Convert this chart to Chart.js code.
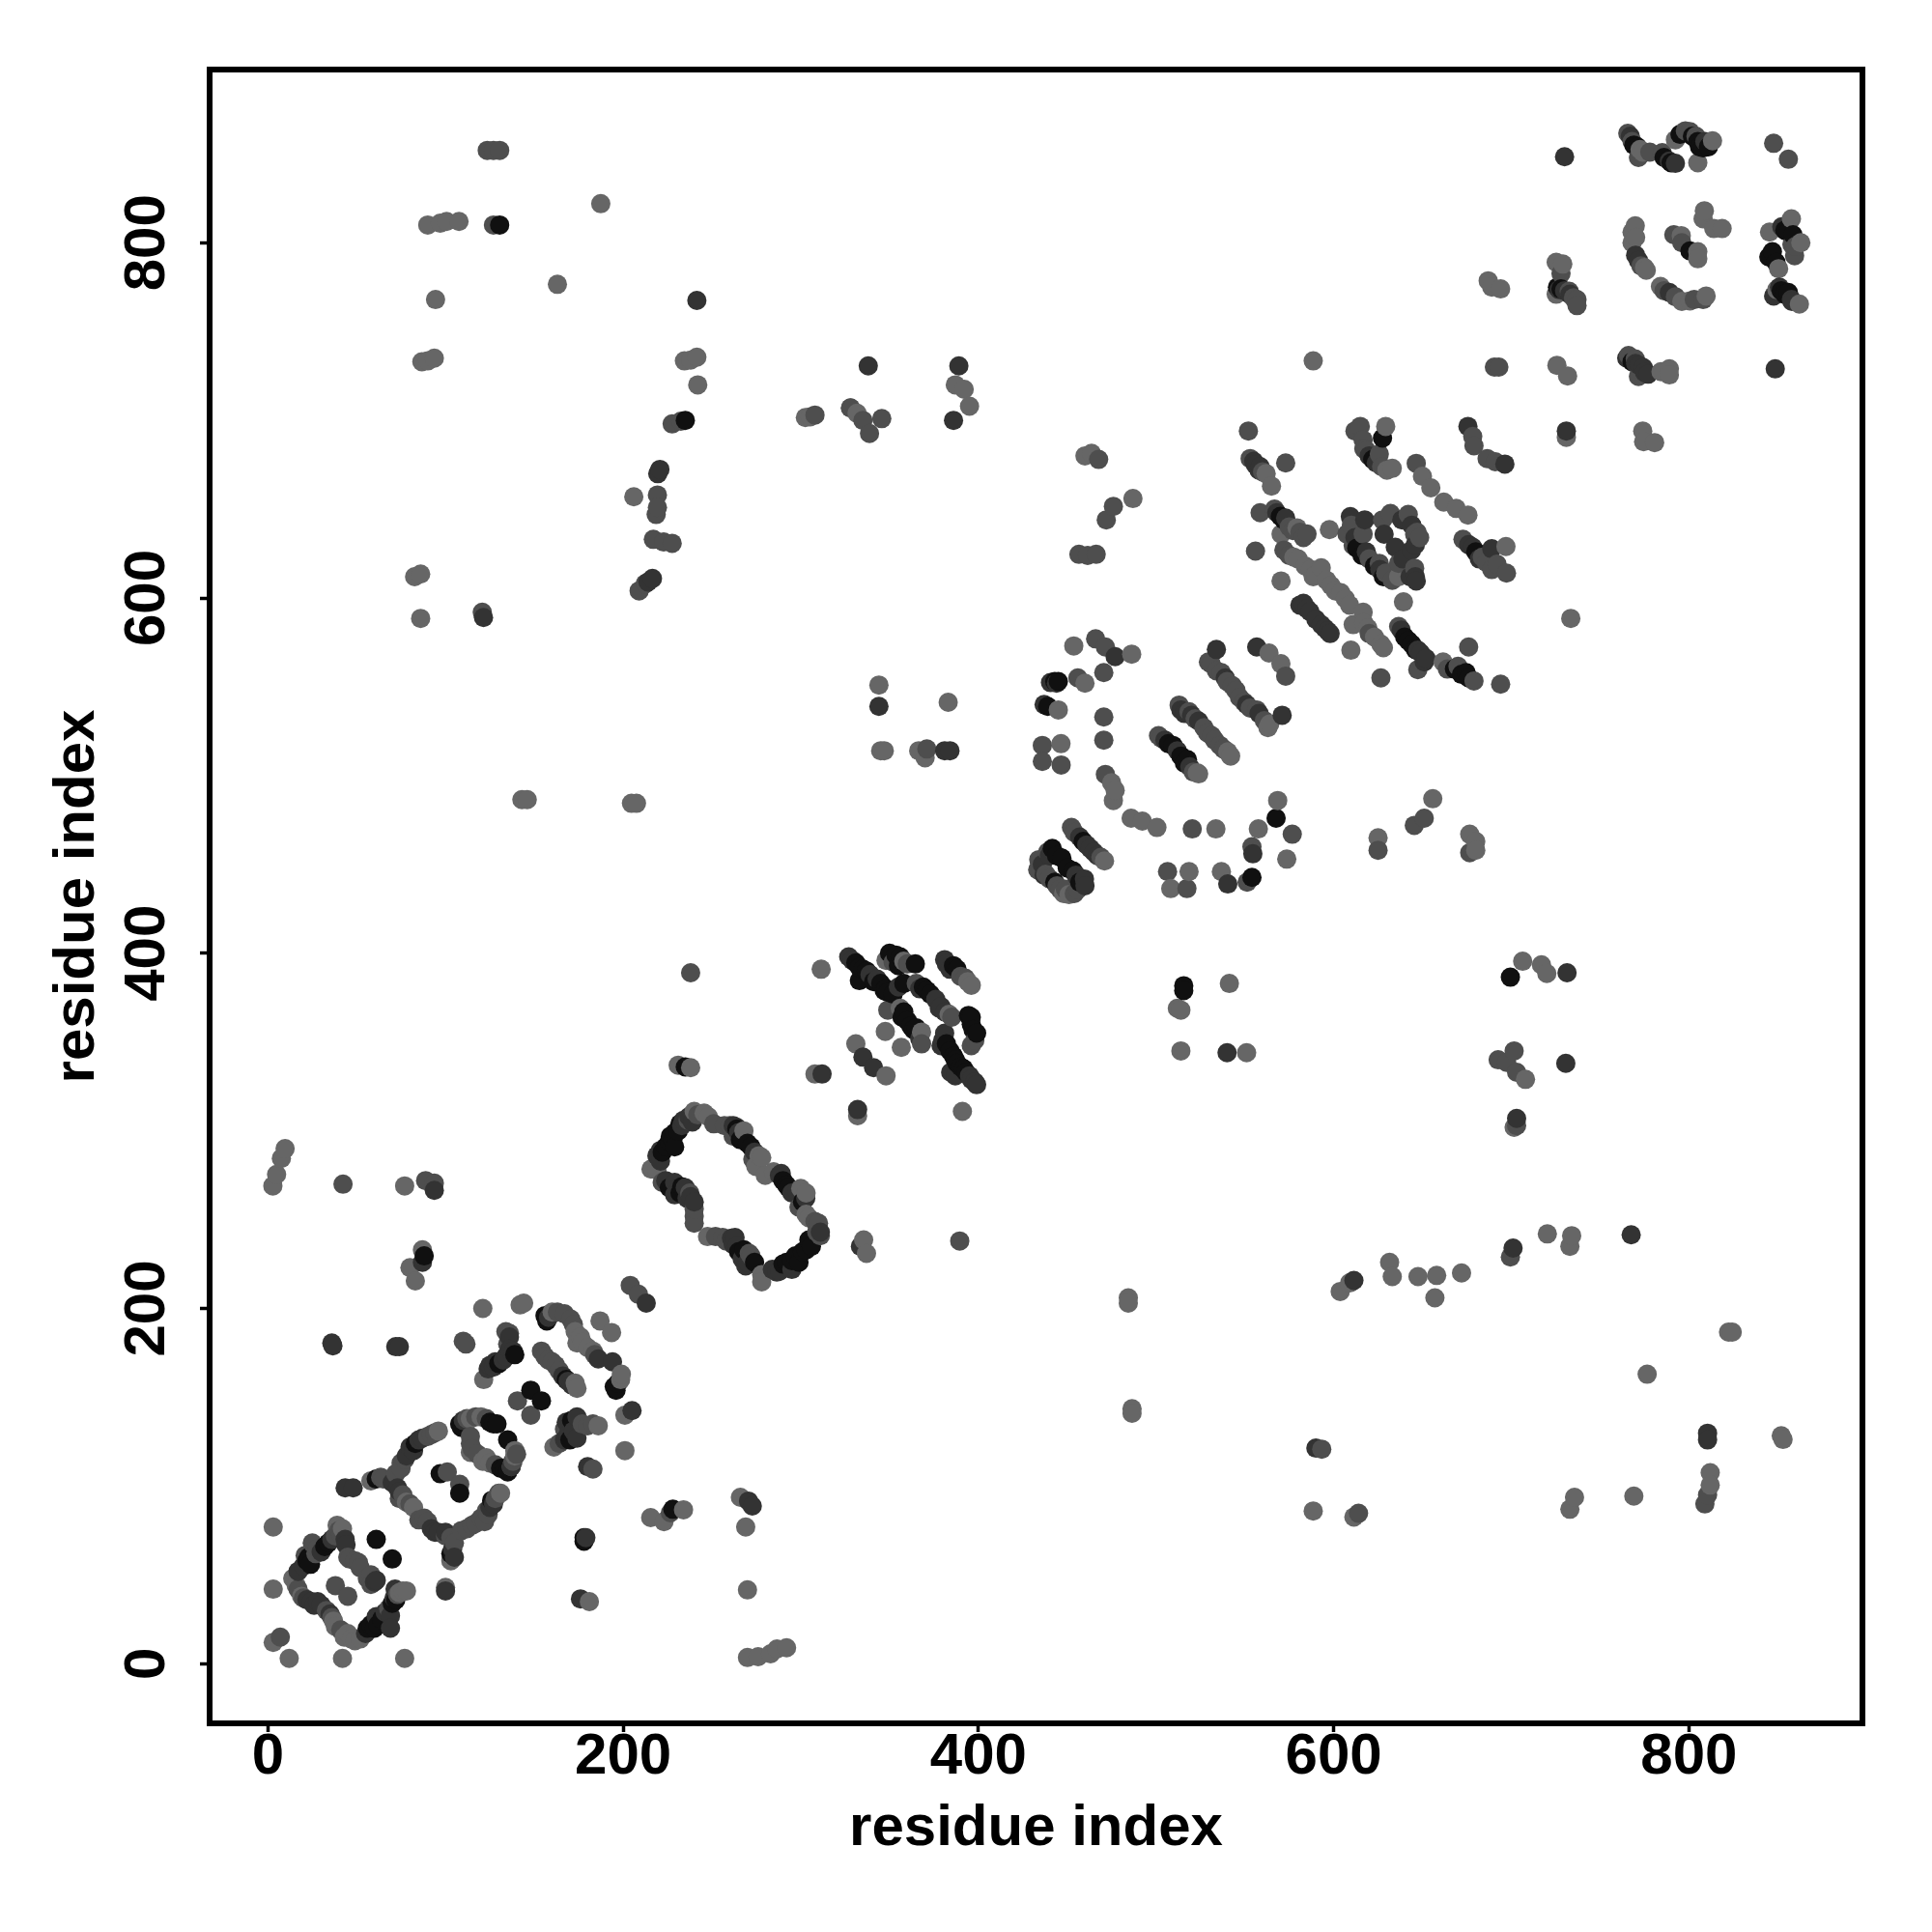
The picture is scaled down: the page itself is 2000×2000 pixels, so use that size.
<!DOCTYPE html>
<html><head><meta charset="utf-8">
<style>html,body{margin:0;padding:0;background:#fff}canvas{display:block}</style>
<script src="https://cdn.jsdelivr.net/npm/chart.js@4"></script>
</head><body><canvas id="c" width="2000" height="2000"></canvas>
<script>
const axisTitle = "residue index";
const tickValues = [0,200,400,600,800];
const lightPoints = [[3,77],[3,42],[3,12],[12,3],[42,3],[77,3],[14,48],[16,44],[19,38],[38,21],[45,17],[47,14],[52,14],[76,41],[78,41],[39,78],[58,103],[103,58],[96,131],[114,138],[120,139],[131,96],[139,117],[114,119],[121,114],[125,113],[121.5,160],[121,200],[142,202],[144,203],[160,198],[187,193],[193.5,186.5],[176,184],[174,180.6],[183,176],[174,155],[198.6,160],[201,140],[186,134],[161,122],[201,120],[100,43],[181,35],[215.5,82.3],[223,80],[234,86.7],[87,233],[80,223],[83,215.5],[311.5,391],[348,396],[358,395.5],[396,382],[383.5,365.6],[356,369],[368,355.6],[347.6,356],[356.6,347],[331,349],[348,331],[231,337],[238,335.6],[308,332],[332,308.5],[391,311],[335.4,238.6],[337,231],[240,311],[245.6,310],[215.7,278.5],[219,278],[247.5,240.5],[278,219],[278,215],[304.6,251],[300,267.6],[284.7,277],[280,275],[274.7,280],[276.5,286],[268,300],[453.7,573],[486.3,568.4],[460,552],[445,537],[446.5,518],[475,496],[477,491.7],[476,486],[486,476],[492.3,474.4],[500.5,470.8],[533.7,470],[568.5,486],[557.6,470],[573.6,453],[518.6,446],[508.3,436.4],[536.8,446],[471,452],[448,433.6],[540.4,513.4],[523.2,501.6],[564,529],[563.6,569],[570.3,563],[562,670],[565,663],[579.4,639.5],[570.4,636],[597.6,638.5],[577.6,623],[584,618],[588.5,612],[570.4,609.6],[593,617],[598.5,607],[606.6,599.6],[616.6,592],[619.3,583],[626.6,574],[609.7,570.6],[611,585],[639.3,597.8],[661.6,564],[629.3,696.6],[633,673],[650,668.5],[654.7,662],[662,654],[669,650.4],[675.6,646.7],[697,629],[636.6,612],[772.5,852.5],[792.4,858],[813.3,857.4],[805,845],[808.7,818],[808,813.5],[814,808],[818.7,808],[769.8,809.5],[768,806],[768,800],[776,784.5],[795.7,804],[805,795],[805,791],[784,775.4],[800.6,767.3],[809.7,770],[729,788],[725.3,789],[725.3,771],[857.7,813.5],[845.4,806],[863,800],[850.5,785.4],[849.5,773.6],[862.2,765.5],[725.7,731],[731.7,725],[784.3,727.4],[789,729],[789,725.6],[187.4,822],[163,776.6],[94.4,768],[86.7,733],[90,733.5],[93.7,735],[234.5,733.5],[238,734],[241.5,735.6],[242,720],[206,657],[143,486.5],[146,486.5],[204.7,484.4],[207.5,484.4],[588.5,733.5],[774,694],[774.5,688],[780.7,687.5],[731,690.5],[460,680],[463.7,681.4],[487,656],[733.5,588.5],[655.8,487],[625,465],[676.6,467],[680,463],[680,458],[708,329],[706.4,395.5],[717,393.5],[720,388.6],[701.6,302],[720.3,242],[734,241],[733,235],[603.7,209.6],[609,214.4],[631.5,226],[633,218],[647.5,218],[658,218.6],[657,206],[672,220],[484.4,206],[484.4,203],[486.5,143.6],[486.5,141],[588.5,86],[611.4,82.6],[733,87],[735.6,93.7],[769,94.4],[776.5,163],[822.3,186.7],[824.4,186.7],[812,107.6],[812,100.6],[852,128.4],[853,126.3],[2.8,269],[4.9,275.5],[7.6,284.5],[9.7,290],[77,269],[266,93.7],[269,77],[270,41.6],[270,3.5],[276,4],[283,5.6],[286.6,8.3],[292,9],[86,588.5],[82.6,612],[86,613.5],[90,810],[97,811],[100.6,812],[107.6,812],[302.6,701.6],[305.3,702],[328,707],[331.7,704],[345,514],[347,514],[366.4,514],[370,510],[344,551],[383,541.3],[387,720],[392,717.5],[395,708],[512,369],[514,368],[514,345],[541.3,383],[551,344],[687,778.6],[689,775],[694,774],
[42,76],[37,24],[43,15],[49,13],[74,40],[78,91],[82,88],[123,116],[139,120],[173,187],[177,181],[180,178],[173,158],[199,163],[248,308],[278,285],[303,265],[303,253],[394,384],[451,433],[524,501],[542,511],[563,527],[580,622],[587,616],[590,613],[596,610],[601,604],[604,603],[609,596],[617,586],[623,578],[628,572],[630,672],[774,851],[770,803],[775,786],[796,767]];
const midPoints = [[7,15],[38,44],[45,38],[40,75],[21,61],[28,65],[25,68],[45,60],[51,57],[58,50],[58,44.6],[63.5,105],[74,93],[80,90],[90,80],[100,72],[109,75],[122,80],[123,86],[72,107],[75,113],[90,128],[101,108],[108,101],[114,124],[140.5,148],[148,140],[134,187],[110,181.6],[111.5,180],[170.5,194],[162,168],[156,173],[183,109.6],[204,213],[208.6,208],[167,132],[226.6,85],[238,389],[392.6,386],[365,383],[396,348],[349,368],[368,349],[389.5,238],[236.6,306],[251,304],[222,271],[237.5,265],[240,252],[240,248],[252,240.5],[272,229.6],[311,241],[310,248],[260,303],[466,577],[471.5,572.4],[470.6,558],[456,555],[470.6,533],[470.6,520],[436,517],[436,508],[446.6,506],[471.5,500.7],[520.4,470],[576.7,467],[554,460],[506.5,446],[517.4,436.4],[551.3,440],[452.4,470.8],[434,452.7],[433.4,447],[438,444.5],[444.3,438],[454,433.6],[513,539.7],[518.6,536],[531.3,522.5],[501.4,522.5],[529.5,564],[536.8,558],[543,550.6],[549.5,541.5],[556.7,537],[573,556],[552,694],[553,678.5],[573,676],[558.6,648],[566.7,650],[585,636],[556,626.4],[572,627],[626.6,555],[636.6,584],[647.4,559.7],[676,572.4],[670,561.5],[679,553.3],[694,551.5],[615,696.6],[616.6,689],[625.7,681],[618.4,683],[678.3,691],[679,685.7],[686.4,678.5],[691,676.7],[646.5,675.8],[672.8,633],[683.7,623],[689,616],[697.3,614],[607.5,636],[616.6,636],[611,629.5],[625.7,619.5],[629.3,614],[645.6,616.8],[636.6,619.5],[627.5,644],[632,647.6],[645.6,635.9],[648.4,634],[765.6,861.6],[768,857],[771.6,848],[785,850.7],[800.6,862.5],[804,860],[847.7,856],[856,847],[791.5,804.5],[796,800],[792.4,769.6],[808,768],[728,782.7],[732.6,772.7],[737,768],[737,764.6],[859.5,792.7],[766,736.5],[769.8,734.6],[771.6,724.7],[127,852],[130.5,852],[123.5,852],[219.3,658],[219.3,651],[218.6,647],[217,633],[222.8,631.5],[227.6,630.8],[209,604],[212.4,608],[120.7,592],[227.6,698],[232.5,699.5],[345.6,701],[690.5,730],[693,730],[467.7,678],[476,651.6],[472,644],[456.6,624.6],[461.5,624],[466.3,624.6],[651,476],[645.4,472],[625,458],[676.6,456.6],[692.6,340],[701.6,345],[697.4,338.6],[703,333],[703,303],[699.5,229],[593.3,120.8],[614,84.7],[810.5,95],[809,90],[42.3,270],[88.8,272],[93.7,270.6],[127,810],[308,703],[335,700],[338.7,692.6],[328,707],[371,515],
[27,62],[38,72],[41,73],[17,42],[20,37],[33,30],[36,26],[41,19],[68,31],[73,39],[46,59],[49,58],[52,54],[56,48],[65,104],[76,95],[85,81],[88,82],[103,71],[105,68],[75,110],[77,115],[92,129],[94,130],[112,76],[115,78],[117,79],[120,82],[124,84],[128,93],[130,96],[112,138],[117,139],[123,138],[114,128],[115,121],[118,118],[128,112],[137,111],[138,114],[140,118],[135,180],[136,186],[163,198],[167,197],[172,191],[184,174],[154,176],[158,171],[160,170],[164,165],[164,124],[183,135],[180,134],[177,135],[242,309],[257,303],[262,297],[273,284],[299,257],[308,249],[309,243],[256,240],[258,238],[271,231],[240,256],[352,395],[360,394],[385,364],[390,387],[398,351],[440,442],[446,436],[449,436],[456,436],[439,457],[454,468],[469,454],[503,521],[521,502],[522,532],[527,527],[529,524],[533,520],[536,517],[538,515],[531,563],[534,559],[540,553],[545,548],[547,544],[553,538],[561,531],[560,671],[575,640],[577,638],[581,637],[583,634],[575,624],[620,580],[664,560],[612,694],[617,684],[627,674],[686,620],[692,619],[610,641],[620,622],[633,610],[642,647],[647,637],[778,851],[798,863],[773,787],[786,773],[803,768],[735,769],[858,799],[860,798]];
const darkPoints = [[43.5,70],[61,47],[24.5,35],[28,35],[35,28],[61,26.5],[69,27],[69,20],[71,37],[71.6,42],[17,52],[43.5,99],[48,99],[73,99],[94,74],[104,64.5],[127,90],[80,122],[85,126],[125,168],[132.5,171],[136,184],[158,195],[186,171.6],[194,170],[169,159],[205,142.5],[174,139],[167,126],[180,111],[100,41],[179,71],[176,36.5],[36.6,179],[36,180.6],[72,178.5],[74,178.5],[87,226],[213,203],[327,398],[343,385.5],[355,381],[381,396.4],[379,370],[381,355],[379,348],[384.4,333],[398,327.5],[395,331],[335,341.5],[341,335.6],[312,332],[332,312],[333.6,235],[221,289],[219,286],[229,271],[240,260],[261,239.6],[264,235],[269,224],[286.5,220.5],[311,243],[302.8,262],[289,276],[264,302],[477,567],[440.6,552.4],[437,540],[554.5,456],[540.4,439],[457,465.4],[465,457],[459.7,441.8],[524,530.7],[534,571],[571,534],[556.7,572.4],[558.6,674],[573,645],[581,596],[586.7,592.3],[593,585],[596.7,581.4],[647.4,570.6],[652,566],[675.6,696.6],[696.4,675.4],[678.3,628.6],[689,627.7],[609.4,645.8],[617.5,644],[618.4,626],[646.5,609.6],[634.7,628.6],[628.4,635.9],[638.4,644],[643.8,626.8],[730,848.4],[789,846],[792.4,844.7],[771.6,790],[789,772],[727,773.6],[852.3,809],[847.7,770],[857.7,768],[774.3,729.7],[848.6,729],[241.5,767.5],[216.5,611],[220.7,672.4],[219.5,670],[121.4,589],[338,730.7],[389,730.7],[386,700],[381,514],[384,514],[344,539],[540,344],[730.7,338],[731.4,389],[731,694],[703,307],[767.5,241.5],[701,234],[611.4,215.8],[590,121.4],[810.5,129.8],[810.5,126],[93.7,266.5],[272.7,88.8],[270.6,91.6],
[20,55],[30,63],[36,70],[44,67],[22,36],[26,33],[30,33],[55,17],[66,29],[70,102],[74,97],[60,46],[92,76],[96,74],[100,74],[105,60],[78,117],[82,120],[87,127],[125,88],[110,137],[137,111],[124,166],[127,167],[128,170],[134,173],[136,177],[138,176],[166,162],[171,157],[168,136],[169,129],[172,131],[174,127],[221,283],[233,303],[234,306],[237,308],[239,305],[262,303],[265,299],[274,288],[288,275],[295,265],[298,266],[288,221],[284,222],[295,222],[262,236],[267,228],[270,226],[263,240],[224,272],[229,264],[235,268],[236,262],[238,263],[329,396],[339,388],[367,380],[376,374],[378,369],[381,367],[382,394],[384,391],[367,352],[380,351],[396,329],[399,326],[387,331],[436,450],[437,444],[440,455],[455,444],[460,438],[461,461],[463,459],[467,455],[505,520],[512,514],[519,505],[514,537],[516,535],[520,534],[539,555],[551,540],[558,535],[555,677],[556,675],[558,672],[568,648],[583,597],[585,594],[590,588],[595,583],[598,580],[638,582],[649,569],[651,564],[620,680],[624,676],[676,630],[682,622],[612,634],[626,616],[643,612],[646,612],[644,641],[646,630],[639,622],[767,860],[809,857],[770,793],[730,773],[733,771],[851,775],[858,767],[765,735],[770,732],[772,731],[775,727],[777,726],[444,552],[214,609]];
const blackPoints = [[22,58],[34,68],[61,70],[70,59],[58,22],[97,107],[108,96],[109,133],[127,135],[135,126],[133,110],[148,154],[154,148],[139,174],[195,156],[170,126],[228,87],[88,229.6],[331,394.6],[333,384.6],[335,391],[348,380],[353.6,399],[364.5,394],[386,393],[371,379],[394.4,365],[399,355],[396,360],[357,364],[363.5,357],[386,342],[391.7,335],[235,336],[232,304],[226.6,297],[233,268.6],[268,233],[292,226],[297,229.6],[303,233],[304.6,238.6],[292,269.5],[270,293],[443,553],[567.6,476],[554,442.7],[441.6,459],[447,453.6],[453.3,446.4],[509.6,517],[517.7,509],[642,576],[674.6,558],[627.5,690],[808,853.4],[800.6,795.4],[858.6,804.5],[845,792],[856,772],[235,700],[515.6,381.7],[515.6,379],[699.5,386.5],[178,71],[178,69],[130.5,810],
[23,60],[24,56],[32,66],[56,20],[60,20],[62,22],[64,25],[70,34],[72,36],[61,104],[103,62],[83,124],[126,92],[108,135],[125,136],[129,135],[131,110],[135,108],[130,169],[156,196],[157,193],[168,160],[171,137],[196,154],[197,158],[222,288],[224,291],[226,294],[228,295],[229,299],[231,300],[229,291],[264,301],[266,295],[272,291],[290,272],[293,268],[301,260],[306,235],[301,232],[299,226],[295,227],[290,225],[265,232],[274,226],[226,268],[232,265],[333,392],[337,390],[341,384],[345,383],[347,379],[349,378],[352,377],[358,383],[350,400],[356,398],[355,393],[369,381],[373,377],[388,391],[396,364],[397,357],[358,367],[360,362],[362,359],[365,358],[382,349],[384,345],[387,340],[388,338],[390,336],[393,333],[443,440],[444,455],[450,448],[457,440],[459,463],[507,518],[514,511],[516,507],[570,646],[572,644],[640,578],[644,574],[646,571],[668,560],[672,557],[676,555],[622,678],[680,626],[613,628],[616,624],[623,618],[628,612],[769,855],[771,854],[786,848],[790,845],[795,861],[802,860],[805,857],[806,854],[811,854],[726,775],[728,774],[847,795],[849,789],[852,773],[854,771],[854,807],[856,806],[768,733],[445,553],[439,539]];
const shadeColors = ['#666666','#4e4e4e','#333333','#101010'];
const xMin = -32.8, xMax = 897.7, yMin = -33.55, yMax = 897.5;

const rows = [];
[lightPoints,midPoints,darkPoints,blackPoints].forEach((arr,i)=>arr.forEach(p=>rows.push({x:p[0],y:p[1],c:shadeColors[i]})));
rows.sort((a,b)=>a.x-b.x);
const axisFont = {family:'"Liberation Sans",Arial,sans-serif',weight:'bold',size:60};
const boxPlugin = {id:'box',afterDraw(ch){const a=ch.chartArea,g=ch.ctx;g.save();g.strokeStyle='#000';g.lineWidth=6;g.strokeRect(a.left,a.top,a.right-a.left,a.bottom-a.top);g.restore();}};
const ticksFrom = s=>{s.ticks=tickValues.map(v=>({value:v}));};
new Chart(document.getElementById('c'),{
 type:'scatter',
 data:{datasets:[{data:rows.map(r=>({x:r.x,y:r.y})),backgroundColor:rows.map(r=>r.c),pointBackgroundColor:rows.map(r=>r.c),pointBorderWidth:0,pointRadius:10,pointHoverRadius:10}]},
 plugins:[boxPlugin],
 options:{responsive:false,animation:false,
  layout:{padding:{top:72,right:72,left:0,bottom:0}},
  plugins:{legend:{display:false},tooltip:{enabled:false}},
  scales:{
   x:{type:'linear',min:xMin,max:xMax,afterBuildTicks:ticksFrom,afterFit(s){s.height=216;},
    border:{display:false},
    grid:{drawOnChartArea:false,drawTicks:true,tickLength:9,tickWidth:3.5,tickColor:'#000'},
    ticks:{color:'#000',font:axisFont,padding:-10,autoSkip:false,maxRotation:0,minRotation:0,callback:v=>String(v)},
    title:{display:true,text:axisTitle,color:'#000',font:axisFont,padding:{top:0,bottom:71}}},
   y:{type:'linear',min:yMin,max:yMax,afterBuildTicks:ticksFrom,afterFit(s){s.width=217;},
    border:{display:false},
    grid:{drawOnChartArea:false,drawTicks:true,tickLength:10,tickWidth:3.5,tickColor:'#000'},
    ticks:{color:'#000',font:axisFont,padding:3,autoSkip:false,minRotation:90,maxRotation:90,crossAlign:'center',callback:v=>String(v)},
    title:{display:true,text:axisTitle,color:'#000',font:axisFont,padding:{top:44,bottom:0}}}
  }}
});
</script></body></html>
